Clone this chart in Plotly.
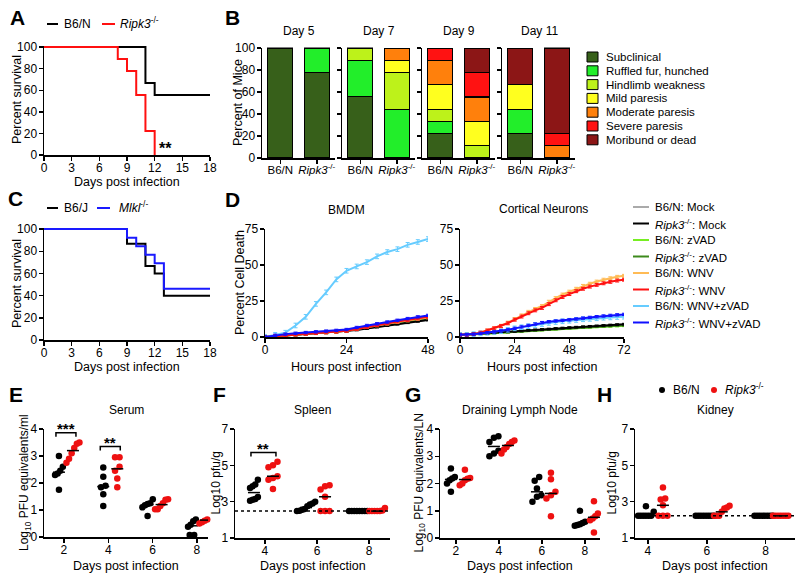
import numpy as np
import plotly.graph_objects as go

W, H = 800, 575
FONT = "Liberation Sans, Arial, Helvetica, sans-serif"
RIPK3 = "<i>Ripk3</i><sup>-/-</sup>"
MLKL = "<i>Mlkl</i><sup>-/-</sup>"

# ======================= DATA =======================
# Panel A: survival (%)
a_b6n_day = [0, 11, 12, 18]
a_b6n_pct = [100, 66.7, 55.6, 55.6]
a_ripk3_day = [0, 8, 9, 10, 11, 12]
a_ripk3_pct = [100, 88.9, 77.8, 55.6, 22.2, 0]

# Panel C: survival (%)
c_b6j_day = [0, 9, 11, 12, 13, 18]
c_b6j_pct = [100, 86.7, 66.7, 60.0, 40.0, 40.0]
c_mlkl_day = [0, 9, 10, 11, 12, 13, 18]
c_mlkl_pct = [100, 92.3, 84.6, 76.9, 69.2, 46.2, 46.2]

# Panel B: clinical score distribution (% of mice)
b_days = ["Day 5", "Day 7", "Day 9", "Day 11"]
b_genotypes = ["B6/N", RIPK3]
b_stages = ["Subclinical", "Ruffled fur, hunched", "Hindlimb weakness",
            "Mild paresis", "Moderate paresis", "Severe paresis", "Moribund or dead"]
# order: D5 B6/N, D5 Ripk3, D7 B6/N, D7 Ripk3, D9 B6/N, D9 Ripk3, D11 B6/N, D11 Ripk3
b_subclinical = [100, 77.8, 55.6, 0, 22.2, 0, 22.2, 0]
b_ruffled = [0, 22.2, 33.3, 44.4, 11.1, 0, 22.2, 0]
b_hindlimb = [0, 0, 11.1, 33.3, 11.1, 11.1, 0, 0]
b_mild = [0, 0, 0, 11.1, 22.2, 22.2, 22.2, 0]
b_moderate = [0, 0, 0, 11.1, 22.2, 22.2, 0, 11.1]
b_severe = [0, 0, 0, 0, 11.1, 22.2, 0, 11.1]
b_moribund = [0, 0, 0, 0, 0, 22.2, 33.3, 77.8]
b_colors = ["#37601a", "#22ee2a", "#bdf21a", "#ffff1f", "#ff800c", "#ff1212", "#8c1616"]

# Panel D: percent cell death
d_labels = ["B6/N: Mock", RIPK3 + ": Mock", "B6/N: zVAD", RIPK3 + ": zVAD",
            "B6/N: WNV", RIPK3 + ": WNV", "B6/N: WNV+zVAD", RIPK3 + ": WNV+zVAD"]
d_colors = ["#aaaaaa", "#000000", "#77ee22", "#3d8a1c", "#ffbb55", "#ff1010", "#66ccff", "#1010ff"]
bmdm_hours = [0, 3, 6, 9, 12, 15, 18, 21, 24, 27, 30, 33, 36, 39, 42, 45, 48]
bmdm_b6n_mock = [0, 0.5, 1.0, 1.5, 2.0, 2.5, 3.0, 3.5, 4.0, 5.0, 6.0, 7.0, 8.0, 9.0, 10.0, 11.0, 12.0]
bmdm_ripk3_mock = [0, 0.5, 1.0, 1.4, 1.9, 2.4, 2.9, 3.4, 3.9, 4.9, 5.9, 6.9, 7.9, 8.9, 9.9, 10.9, 11.8]
bmdm_b6n_zvad = [0, 0.6, 1.1, 1.6, 2.2, 2.7, 3.2, 3.8, 4.5, 5.6, 6.8, 7.9, 9.0, 10.0, 11.0, 12.0, 13.0]
bmdm_ripk3_zvad = [0, 0.5, 1.0, 1.5, 2.0, 2.5, 3.0, 3.6, 4.3, 5.3, 6.3, 7.4, 8.5, 9.5, 10.5, 11.5, 12.5]
bmdm_b6n_wnv = [0, 0.7, 1.3, 1.8, 2.3, 2.8, 3.3, 3.8, 4.4, 5.6, 6.9, 8.1, 9.3, 10.4, 11.5, 12.6, 13.6]
bmdm_ripk3_wnv = [0, 0.6, 1.2, 1.7, 2.2, 2.7, 3.2, 3.7, 4.3, 5.6, 7.0, 8.3, 9.5, 10.7, 11.8, 12.9, 14.0]
bmdm_b6n_wnvz = [0, 1.5, 3.0, 8.0, 14.0, 23.0, 31.0, 40.0, 46.0, 49.0, 52.0, 56.0, 59.0, 61.0, 64.0, 66.0, 68.0]
bmdm_ripk3_wnvz = [0, 1.2, 2.0, 2.6, 3.1, 3.6, 4.1, 4.6, 5.2, 6.6, 8.0, 9.2, 10.4, 11.6, 12.8, 14.0, 15.0]
neuron_hours = [0, 3, 6, 9, 12, 15, 18, 21, 24, 27, 30, 33, 36, 39, 42, 45, 48, 51, 54, 57, 60, 63, 66, 69, 72]
n_b6n_mock = [1.5, 1.8, 2.1, 2.4, 2.7, 3.0, 3.3, 3.6, 3.9, 4.2, 4.5, 4.8, 5.1, 5.4, 5.7, 6.0, 6.3, 6.6, 6.9, 7.2, 7.5, 7.8, 8.1, 8.3, 8.5]
n_ripk3_mock = [1.5, 1.8, 2.1, 2.4, 2.7, 3.0, 3.3, 3.6, 3.9, 4.2, 4.6, 4.9, 5.2, 5.5, 5.9, 6.2, 6.5, 6.8, 7.1, 7.4, 7.7, 8.0, 8.3, 8.6, 8.9]
n_b6n_zvad = [1.3, 1.6, 1.9, 2.2, 2.5, 2.8, 3.1, 3.4, 3.7, 4.0, 4.3, 4.6, 4.9, 5.2, 5.5, 5.8, 6.1, 6.4, 6.6, 6.8, 7.0, 7.2, 7.4, 7.6, 7.8]
n_ripk3_zvad = [1.4, 1.7, 2.0, 2.3, 2.6, 2.9, 3.2, 3.5, 3.8, 4.1, 4.4, 4.7, 5.0, 5.3, 5.6, 5.9, 6.2, 6.5, 6.8, 7.0, 7.3, 7.5, 7.7, 7.9, 8.1]
n_b6n_wnv = [2.0, 2.0, 2.2, 3.0, 4.5, 6.0, 7.8, 10.0, 12.5, 15.0, 17.5, 19.5, 21.5, 24.5, 27.0, 29.5, 31.5, 33.5, 35.5, 37.0, 38.5, 39.8, 40.8, 41.8, 42.5]
n_ripk3_wnv = [1.5, 1.5, 2.0, 3.0, 4.5, 6.0, 7.5, 9.5, 12.0, 14.2, 16.5, 18.5, 20.2, 22.8, 25.5, 27.8, 29.8, 31.8, 33.5, 35.0, 36.2, 37.3, 38.3, 39.2, 39.8]
n_b6n_wnvz = [1.5, 1.5, 2.0, 2.5, 3.0, 3.5, 4.0, 5.0, 6.0, 6.8, 7.5, 8.3, 9.0, 9.8, 10.4, 10.9, 11.3, 11.8, 12.3, 12.6, 13.0, 13.4, 13.6, 13.9, 14.1]
n_ripk3_wnvz = [1.5, 1.5, 2.0, 2.5, 3.0, 3.5, 4.2, 5.0, 6.0, 7.0, 8.0, 9.0, 10.0, 10.6, 11.1, 11.5, 11.9, 12.5, 13.1, 13.6, 14.1, 14.6, 15.0, 15.4, 15.7]

# Panels E-H: viral burden per mouse
e_days = [2, 4, 6, 8]
e_b6n = [[3.0, 2.6, 2.45, 2.35, 2.3, 1.75], [2.57, 2.23, 1.9, 1.84, 1.58, 1.15],
         [1.4, 1.25, 1.22, 1.18, 1.1, 0.78], [0.65, 0.58, 0.45, 0.38, 0.07, 0.07]]
e_ripk3 = [[3.5, 3.45, 3.3, 3.1, 2.9, 2.75], [2.95, 2.95, 2.6, 2.45, 2.17, 1.84],
           [1.4, 1.38, 1.25, 1.15, 1.03, 1.03], [0.78, 0.72, 0.65, 0.6, 0.55, 0.5]]
f_days = [4, 6, 8]
f_b6n = [[4.2, 3.95, 3.85, 3.75, 3.25, 3.15, 3.1, 3.05],
         [3.0, 2.9, 2.85, 2.75, 2.6, 2.55, 2.5, 2.48],
         [2.48, 2.48, 2.48, 2.48, 2.48, 2.48, 2.48, 2.48]]
f_ripk3 = [[5.2, 5.0, 4.9, 4.4, 4.3, 4.2, 3.7],
           [3.9, 3.85, 3.67, 3.27, 2.48, 2.48, 2.48],
           [2.65, 2.52, 2.48, 2.48, 2.48, 2.48, 2.48]]
f_lod = 2.48
g_days = [2, 4, 6, 8]
g_b6n = [[2.55, 2.24, 2.18, 2.12, 2.0, 1.7], [3.73, 3.68, 3.52, 3.2, 3.1, 3.0],
         [2.24, 2.1, 1.82, 1.57, 1.51, 1.33], [1.0, 0.6, 0.55, 0.5, 0.48, 0.45]]
g_ripk3 = [[2.5, 2.2, 2.17, 2.12, 2.0, 1.94], [3.58, 3.52, 3.45, 3.34, 3.25, 3.1],
           [2.39, 2.16, 1.7, 1.57, 1.45, 0.8], [1.35, 0.9, 0.8, 0.72, 0.65, 0.2]]
h_days = [4, 6, 8]
h_b6n = [[2.75, 2.44, 2.22, 2.22, 2.22, 2.22, 2.22, 2.22],
         [2.22, 2.22, 2.22, 2.22, 2.22, 2.22, 2.22, 2.22],
         [2.22, 2.22, 2.22, 2.22, 2.22, 2.22, 2.22, 2.22]]
h_ripk3 = [[3.78, 3.18, 3.12, 2.8, 2.22, 2.22, 2.22],
           [2.77, 2.68, 2.63, 2.44, 2.22, 2.22, 2.22],
           [2.22, 2.22, 2.22, 2.22, 2.22, 2.22, 2.22]]
h_lod = 2.22

# ======================= LAYOUT HELPERS =======================
def xd(a, b):
    return [a / W, b / W]

def yd(top, bottom):
    return [1 - bottom / H, 1 - top / H]

def px(x):
    return x / W

def py(y):
    return 1 - y / H

AX = dict(showline=True, linecolor="black", linewidth=1.5, ticks="outside", ticklen=4,
          tickwidth=1.5, tickcolor="black", showgrid=False, zeroline=False,
          tickfont=dict(family=FONT, size=12, color="black"), fixedrange=True)

axes = {}
annotations = []
shapes = []

def add_axes(n, xpx, ypx, xr, yr, xkw=None, ykw=None):
    s = "" if n == 1 else str(n)
    xa = dict(AX, domain=xd(*xpx), range=xr, anchor="y" + s, ticklabelstandoff=-3)
    ya = dict(AX, domain=yd(*ypx), range=yr, anchor="x" + s, ticklabelstandoff=-1)
    if xkw:
        xa.update(xkw)
    if ykw:
        ya.update(ykw)
    axes["xaxis" + s] = xa
    axes["yaxis" + s] = ya

def ann(text, x, y, size=12, xanchor="center", yanchor="middle", angle=0, bold=False, color="black"):
    if bold:
        text = "<b>" + text + "</b>"
    annotations.append(dict(text=text, x=px(x), y=py(y), xref="paper", yref="paper",
                            showarrow=False, xanchor=xanchor, yanchor=yanchor, textangle=angle,
                            font=dict(family=FONT, size=size, color=color)))

fig = go.Figure()

# ======================= PANEL A =======================
add_axes(1, (44, 210), (46, 155), [0, 18], [0, 101],
         dict(tickvals=[0, 3, 6, 9, 12, 15, 18]), dict(tickvals=[0, 20, 40, 60, 80, 100]))
fig.add_trace(go.Scatter(x=a_b6n_day, y=a_b6n_pct, mode="lines", xaxis="x", yaxis="y",
                         line=dict(color="black", width=2, shape="hv")))
fig.add_trace(go.Scatter(x=a_ripk3_day, y=a_ripk3_pct, mode="lines", xaxis="x", yaxis="y",
                         line=dict(color="#ff1010", width=2, shape="hv")))
ann("**", 157, 148, size=16, xanchor="left", bold=True)
ann("Percent survival", 17, 100, size=12.5, angle=-90)
ann("Days post infection", 127, 182, size=12.5)
shapes.append(dict(type="line", xref="paper", yref="paper", x0=px(47), x1=px(58), y0=py(24), y1=py(24),
                   line=dict(color="black", width=2)))
ann("B6/N", 62, 24, xanchor="left")
shapes.append(dict(type="line", xref="paper", yref="paper", x0=px(102), x1=px(115), y0=py(24), y1=py(24),
                   line=dict(color="#ff1010", width=2)))
ann(RIPK3, 118, 23, xanchor="left")

# ======================= PANEL B =======================
b_stage_vals = [b_subclinical, b_ruffled, b_hindlimb, b_mild, b_moderate, b_severe, b_moribund]
for g in range(4):
    n = g + 2
    s = str(n)
    left = 262 + 80 * g
    add_axes(n, (left, left + 73), (47.5, 158), [-0.5, 1.5], [0, 100.5],
             dict(tickvals=[0, 1], ticktext=b_genotypes, tickfont=dict(family=FONT, size=11.5, color="black")),
             dict(tickvals=[0, 20, 40, 60, 80, 100], showticklabels=(g == 0)))
    for k, vals in enumerate(b_stage_vals):
        yv = [vals[2 * g] if vals[2 * g] > 0 else None, vals[2 * g + 1] if vals[2 * g + 1] > 0 else None]
        fig.add_trace(go.Bar(x=[0, 1], y=yv, width=0.68, xaxis="x" + s, yaxis="y" + s,
                             marker=dict(color=b_colors[k], line=dict(color="black", width=1.2)),
                             name=b_stages[k]))
    ann(b_days[g], left + 37, 31)
ann("Percent of Mice", 238, 103, size=12.5, angle=-90)
for k, lab in enumerate(b_stages):
    yc = 57 + 13.8 * k
    shapes.append(dict(type="rect", xref="paper", yref="paper", x0=px(587), x1=px(598),
                       y0=py(yc + 5), y1=py(yc - 5), fillcolor=b_colors[k],
                       line=dict(color="black", width=1)))
    ann(lab, 604, yc, size=11.5, xanchor="left")

# ======================= PANEL C =======================
add_axes(6, (44, 210), (228, 340), [0, 18], [0, 101],
         dict(tickvals=[0, 3, 6, 9, 12, 15, 18]), dict(tickvals=[0, 20, 40, 60, 80, 100]))
fig.add_trace(go.Scatter(x=c_b6j_day, y=c_b6j_pct, mode="lines", xaxis="x6", yaxis="y6",
                         line=dict(color="black", width=2, shape="hv")))
fig.add_trace(go.Scatter(x=c_mlkl_day, y=c_mlkl_pct, mode="lines", xaxis="x6", yaxis="y6",
                         line=dict(color="#1a1aff", width=2, shape="hv")))
ann("Percent survival", 17, 284, size=12.5, angle=-90)
ann("Days post infection", 127, 367, size=12.5)
shapes.append(dict(type="line", xref="paper", yref="paper", x0=px(47), x1=px(58), y0=py(208), y1=py(208),
                   line=dict(color="black", width=2)))
ann("B6/J", 62, 208, xanchor="left")
shapes.append(dict(type="line", xref="paper", yref="paper", x0=px(97), x1=px(110), y0=py(208), y1=py(208),
                   line=dict(color="#1a1aff", width=2)))
ann(MLKL, 117, 207, xanchor="left")

# ======================= PANEL D =======================
add_axes(7, (265, 428), (229, 337), [0, 48], [0, 75],
         dict(tickvals=[0, 24, 48]), dict(tickvals=[0, 25, 50, 75]))
add_axes(8, (460, 624), (229, 337), [0, 72], [0, 75],
         dict(tickvals=[0, 24, 48, 72]), dict(tickvals=[0, 25, 50, 75]))
bmdm_series = [bmdm_b6n_mock, bmdm_ripk3_mock, bmdm_b6n_zvad, bmdm_ripk3_zvad,
               bmdm_b6n_wnv, bmdm_ripk3_wnv, bmdm_b6n_wnvz, bmdm_ripk3_wnvz]
neuron_series = [n_b6n_mock, n_ripk3_mock, n_b6n_zvad, n_ripk3_zvad,
                 n_b6n_wnv, n_ripk3_wnv, n_b6n_wnvz, n_ripk3_wnvz]
d_err = [0.6, 0.6, 0.6, 0.6, 1.0, 1.0, 1.6, 0.8]
draw_order = [0, 2, 3, 1, 4, 6, 5, 7]
for i in draw_order:
    fig.add_trace(go.Scatter(x=bmdm_hours, y=bmdm_series[i], mode="lines", xaxis="x7", yaxis="y7",
                             line=dict(color=d_colors[i], width=2),
                             error_y=dict(type="constant", value=d_err[i], color=d_colors[i],
                                          thickness=1, width=2)))
    fig.add_trace(go.Scatter(x=neuron_hours, y=neuron_series[i], mode="lines", xaxis="x8", yaxis="y8",
                             line=dict(color=d_colors[i], width=2),
                             error_y=dict(type="constant", value=d_err[i], color=d_colors[i],
                                          thickness=1, width=2)))
ann("BMDM", 346, 210)
ann("Cortical Neurons", 543, 209)
ann("Percent Cell Death", 240, 283, size=12.5, angle=-90)
ann("Hours post infection", 346, 367, size=12.5)
ann("Hours post infection", 542, 367, size=12.5)
for k, lab in enumerate(d_labels):
    yc = 207 + 16.5 * k
    shapes.append(dict(type="line", xref="paper", yref="paper", x0=px(633), x1=px(649), y0=py(yc), y1=py(yc),
                       line=dict(color=d_colors[k], width=2)))
    ann(lab, 653, yc, size=11.5, xanchor="left")

# ======================= PANELS E-H =======================
def swarm_x(vals, center, ppx, ppy):
    vals = np.asarray(vals, dtype=float)
    order = np.argsort(vals)
    xs = np.zeros(len(vals))
    clusters, cur = [], [order[0]]
    for i in order[1:]:
        if (vals[i] - vals[cur[-1]]) * ppy < 5.5:
            cur.append(i)
        else:
            clusters.append(cur)
            cur = [i]
    clusters.append(cur)
    for cl in clusters:
        m = len(cl)
        step = 4.5 if m <= 3 else 2.6
        for k, idx in enumerate(cl):
            xs[idx] = center + (k - (m - 1) / 2) * step / ppx
    return xs

def dot_panel(n, xpx, ypx, xr, yr, yticks, days, b6, rk, off_b, off_r, title, ytitle, ytx, stars=None, lod=None):
    s = str(n)
    add_axes(n, xpx, ypx, xr, yr, dict(tickvals=days), dict(tickvals=yticks))
    ppx = (xpx[1] - xpx[0]) / (xr[1] - xr[0])
    ppy = (ypx[1] - ypx[0]) / (yr[1] - yr[0])
    if lod is not None:
        shapes.append(dict(type="line", xref="x" + s + " domain", yref="y" + s, x0=0, x1=1, y0=lod, y1=lod,
                           line=dict(color="black", width=1.5, dash="dot")))
    for vals_list, off, col in ((b6, off_b, "black"), (rk, off_r, "#ee1111")):
        for d, vals in zip(days, vals_list):
            c = d + off / ppx
            xs = swarm_x(vals, c, ppx, ppy)
            fig.add_trace(go.Scatter(x=xs, y=vals, mode="markers", xaxis="x" + s, yaxis="y" + s,
                                     cliponaxis=False, marker=dict(color=col, size=6.5)))
            med = float(np.median(vals))
            hw = 6 / ppx
            fig.add_trace(go.Scatter(x=[c - hw, c + hw], y=[med, med], mode="lines", xaxis="x" + s,
                                     yaxis="y" + s, line=dict(color="black", width=1.5)))
    if stars:
        for d, level, txt in stars:
            x0 = d + (off_b - 3) / ppx
            x1 = d + (off_r + 3) / ppx
            yb = level - 4 / ppy
            shapes.append(dict(type="path", xref="x" + s, yref="y" + s,
                               path=f"M {x0},{yb} L {x0},{level} L {x1},{level} L {x1},{yb}",
                               line=dict(color="black", width=1.5)))
            annotations.append(dict(text="<b>" + txt + "</b>", x=(x0 + x1) / 2, y=level, xref="x" + s,
                                    yref="y" + s, showarrow=False, yanchor="bottom", yshift=-6,
                                    font=dict(family=FONT, size=15, color="black")))
    xc = (xpx[0] + xpx[1]) / 2
    ann(title, xc, 410)
    ann(ytitle, ytx, (ypx[0] + ypx[1]) / 2, size=12, angle=-90)
    ann("Days post infection", xc, 557, size=12.5, yanchor="top")

dot_panel(9, (44, 208), (429, 537), [1.1, 8.5], [0, 4], [0, 1, 2, 3, 4], e_days, e_b6n, e_ripk3,
          -5, 9, "Serum", "Log<sub>10</sub> PFU equivalents/ml", 25,
          stars=[(2, 3.86, "***"), (4, 3.35, "**")])
dot_panel(10, (235, 390), (429, 538), [2.85, 8.8], [1, 7], [1, 3, 5, 7], f_days, f_b6n, f_ripk3,
          -11, 8, "Spleen", "Log10 pfu/g", 215, stars=[(4, 5.7, "**")], lod=f_lod)
dot_panel(11, (440, 600), (429, 538), [1.26, 8.7], [0, 4], [0, 1, 2, 3, 4], g_days, g_b6n, g_ripk3,
          -5, 9, "Draining Lymph Node", "Log<sub>10</sub> PFU equivalents/LN", 419)
dot_panel(12, (635, 795), (429, 538), [3.56, 9.0], [1, 7], [1, 3, 5, 7], h_days, h_b6n, h_ripk3,
          -2, 15, "Kidney", "Log10 pfu/g", 611, lod=h_lod)

# H legend
shapes.append(dict(type="circle", xref="paper", yref="paper", x0=px(659), x1=px(665), y0=py(393), y1=py(387),
                   fillcolor="black", line=dict(color="black", width=0)))
ann("B6/N", 671, 390, xanchor="left")
shapes.append(dict(type="circle", xref="paper", yref="paper", x0=px(711), x1=px(717), y0=py(393), y1=py(387),
                   fillcolor="#ee1111", line=dict(color="#ee1111", width=0)))
ann(RIPK3, 723, 389, xanchor="left")

# ======================= PANEL LETTERS =======================
for letter, x, y in [("A", 8, 17), ("B", 223, 17), ("C", 6, 198), ("D", 223, 199),
                     ("E", 7, 394), ("F", 211, 394), ("G", 403, 394), ("H", 595, 394)]:
    ann(letter, x, y, size=21, xanchor="left", bold=True)

fig.update_layout(width=W, height=H, margin=dict(l=0, r=0, t=0, b=0), template="none",
                  paper_bgcolor="white", plot_bgcolor="white", showlegend=False,
                  barmode="stack", bargap=0.3, font=dict(family=FONT, size=12, color="black"),
                  annotations=annotations, shapes=shapes, **axes)
fig.write_html("out.html", config={"displayModeBar": False, "staticPlot": True},
               post_script="document.body.style.margin='0px';document.body.style.overflow='hidden';")
